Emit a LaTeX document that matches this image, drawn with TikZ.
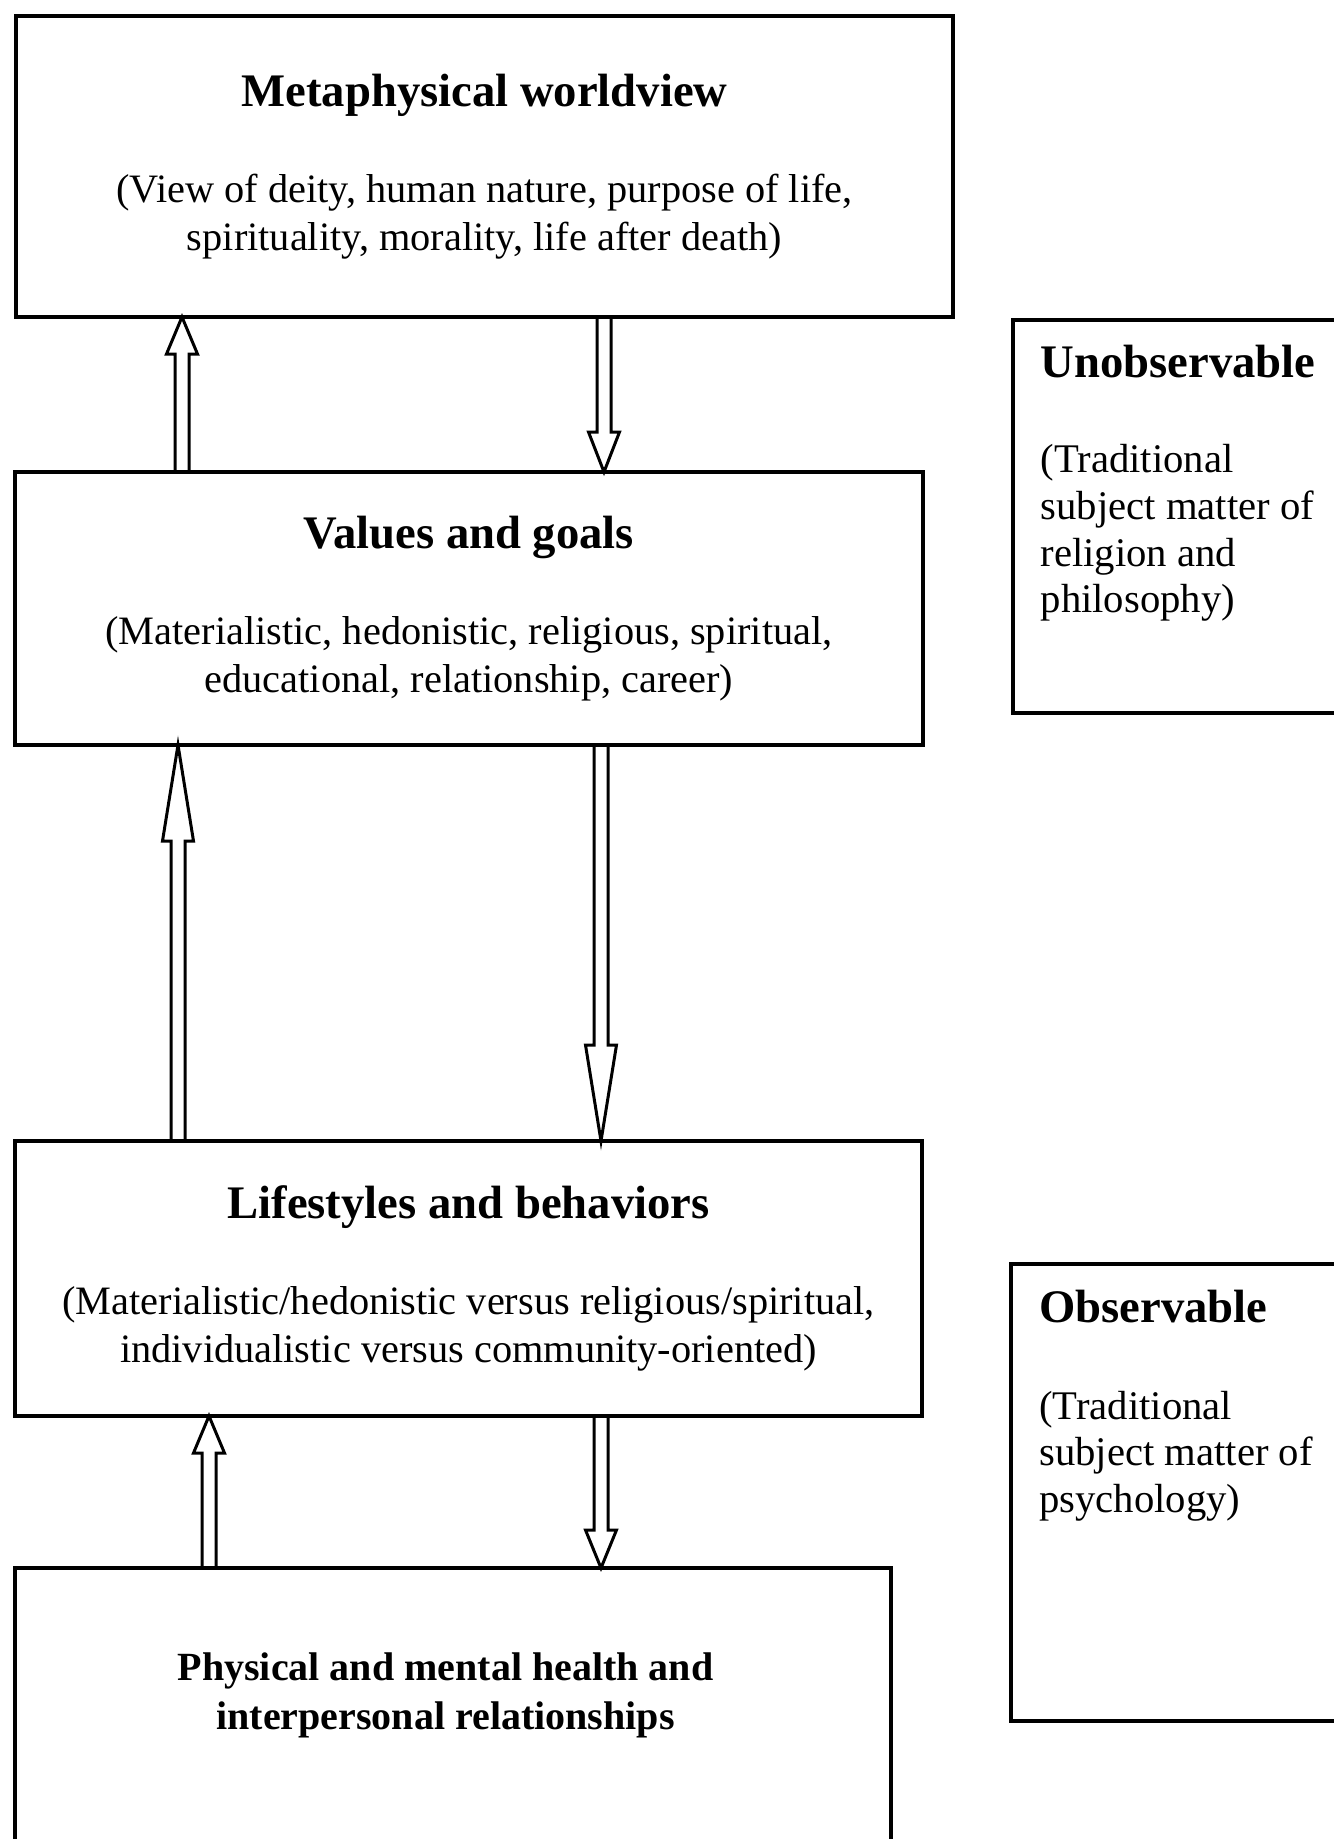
\documentclass[tikz,border=0pt]{standalone}
\usepackage{fontspec}
\setmainfont{Liberation Serif}
\usetikzlibrary{calc}
\newcommand{\boxhead}[1]{{\fontsize{14}{16.8}\selectfont\bfseries #1}}
\begin{document}
\begin{tikzpicture}
  [
    x=1pt, y=-1pt,
    box/.style =
      {draw, line width=1pt, align=center, inner sep=0pt, outer sep=0pt,
       font=\fontsize{12.1}{14.4}\selectfont},
    side/.style =
      {draw, line width=1pt, anchor=north west, inner sep=0pt, outer sep=0pt},
    sidetext/.style =
      {anchor=north west, align=left, inner sep=0pt,
       font=\fontsize{12.2}{14}\selectfont},
    hollow/.style =
      {line width=0.9pt, line join=miter, to path={
        ($(\tikztostart)+(-2.1,0)$)
        -- ($(\tikztotarget)!#1!(\tikztostart)+(-2.1,0)$)
        -- ($(\tikztotarget)!#1!(\tikztostart)+(-4.65,0)$)
        -- (\tikztotarget)
        -- ($(\tikztotarget)!#1!(\tikztostart)+(4.65,0)$)
        -- ($(\tikztotarget)!#1!(\tikztostart)+(2.1,0)$)
        -- ($(\tikztostart)+(2.1,0)$) -- cycle}}
  ]
  \useasboundingbox (0,0) rectangle (399.9,551.7);

  \node [box, minimum width=281.1pt, minimum height=90.3pt] (meta) at (145.35,49.95)
    {\boxhead{Metaphysical worldview}\\[14.5pt]
     (View of deity, human nature, purpose of life,\\
     spirituality, morality, life after death)};
  \node [box, minimum width=272.4pt, minimum height=81.9pt] (values) at (140.7,182.55)
    {\boxhead{Values and goals}\\[14.5pt]
     (Materialistic, hedonistic, religious, spiritual,\\
     educational, relationship, career)};
  \node [box, minimum width=272.1pt, minimum height=82.5pt] (life) at (140.55,383.55)
    {\boxhead{Lifestyles and behaviors}\\[14.5pt]
     (Materialistic/hedonistic versus religious/spiritual,\\
     individualistic versus community-oriented)};
  \node [box, minimum width=262.8pt, minimum height=99.6pt, anchor=north west] (health) at (4.5,470.4) {};
  \node [font=\fontsize{12}{14.7}\selectfont\bfseries, align=center] (healthtext) at (133.65,508.5)
    {Physical and mental health and\\ interpersonal relationships};

  \node [side, minimum width=110pt, minimum height=117.9pt] (unobs) at (303.9,96) {};
  \node [sidetext] (unobstext) at (312,103.4)
    {\boxhead{Unobservable}\\[14.5pt] (Traditional\\ subject matter of\\ religion and\\ philosophy)};
  \node [side, minimum width=110pt, minimum height=137.1pt] (obs) at (303.3,379.2) {};
  \node [sidetext] (obstext) at (311.6,386.8)
    {\boxhead{Observable}\\[15pt] (Traditional\\ subject matter of\\ psychology)};

  \draw [hollow=11.1pt] (values.north -| 54.6,0) to (meta.south -| 54.6,0);
  \draw [hollow=12pt] (meta.south -| 181.2,0) to (values.north -| 181.2,0);
  \draw [hollow=28.8pt] (life.north -| 53.4,0) to (values.south -| 53.4,0);
  \draw [hollow=28.8pt] (values.south -| 180.3,0) to (life.north -| 180.3,0);
  \draw [hollow=11.1pt] (health.north -| 62.7,0) to (life.south -| 62.7,0);
  \draw [hollow=11.4pt] (life.south -| 180.3,0) to (health.north -| 180.3,0);

\end{tikzpicture}
\end{document}
